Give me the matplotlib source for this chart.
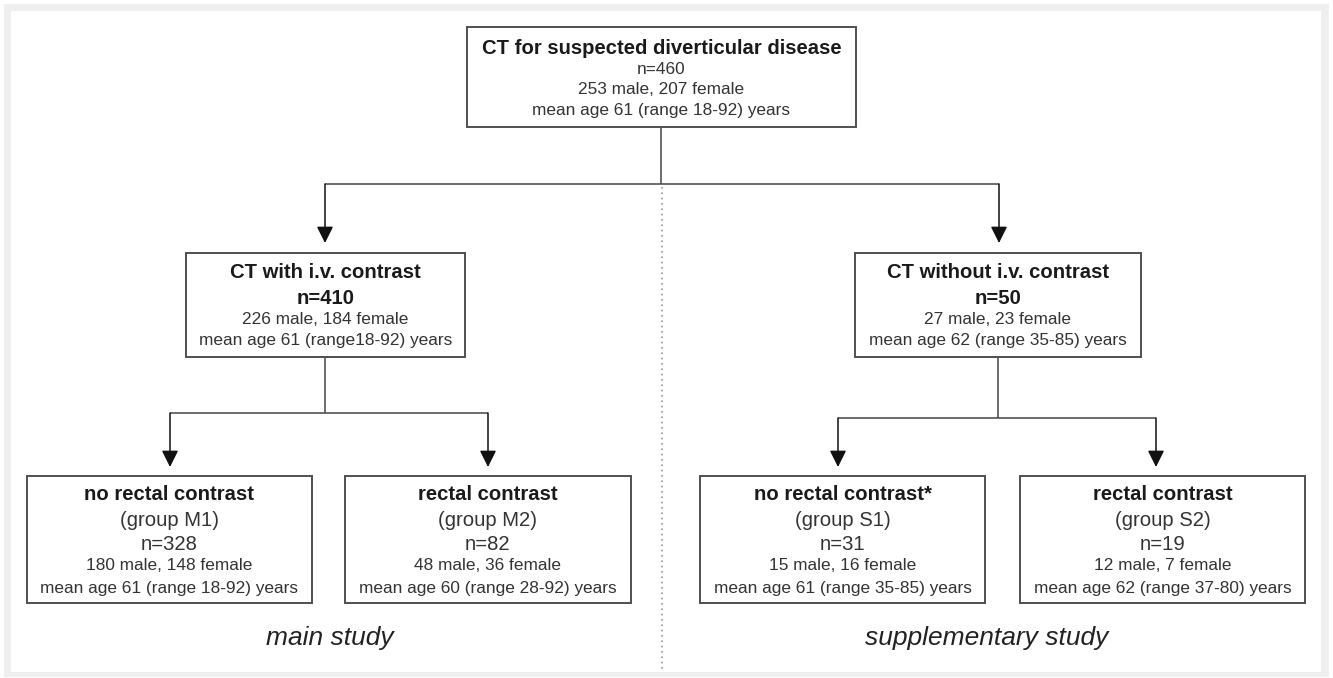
import matplotlib
matplotlib.use("Agg")
import matplotlib.pyplot as plt
from matplotlib.patches import Rectangle, FancyArrowPatch

plt.rcParams['font.family'] = ['Liberation Sans', 'DejaVu Sans']

# ---------------- data ----------------
top_title = "CT for suspected diverticular disease"
top_n = 460
top_male, top_female = 253, 207
top_age = "mean age 61 (range 18-92) years"

mid_titles = ["CT with i.v. contrast", "CT without i.v. contrast"]
mid_n = [410, 50]
mid_male = [226, 27]
mid_female = [184, 23]
mid_age = ["mean age 61 (range18-92) years", "mean age 62 (range 35-85) years"]

bot_titles = ["no rectal contrast", "rectal contrast", "no rectal contrast*", "rectal contrast"]
bot_groups = ["M1", "M2", "S1", "S2"]
bot_n = [328, 82, 31, 19]
bot_male = [180, 48, 15, 12]
bot_female = [148, 36, 16, 7]
bot_age = ["mean age 61 (range 18-92) years", "mean age 60 (range 28-92) years",
           "mean age 61 (range 35-85) years", "mean age 62 (range 37-80) years"]

study_labels = ["main study", "supplementary study"]

# ---------------- layout (pixel space) ----------------
W, H = 1333, 678
fig = plt.figure(figsize=(W / 100, H / 100), dpi=100)
ax = fig.add_axes([0, 0, 1, 1])
ax.set_xlim(0, W)
ax.set_ylim(H, 0)
ax.axis('off')

# frame
ax.add_patch(Rectangle((4, 4), 1325, 673, facecolor='#efefef', edgecolor='none', zorder=0))
ax.add_patch(Rectangle((11, 11), 1310, 661, facecolor='white', edgecolor='none', zorder=0.5))

BOX_EC = '#505050'
LINE_C = '#454545'
TXT_B = '#1a1a1a'
TXT_R = '#333333'
F_BIG = 14.6
F_SMALL = 12.4


def box(x0, x1, y0, y1):
    ax.add_patch(Rectangle((x0, y0), x1 - x0, y1 - y0, facecolor='white',
                           edgecolor=BOX_EC, lw=1.4, zorder=2))


def line(xs, ys):
    ax.plot(xs, ys, color=LINE_C, lw=1.1, solid_capstyle='butt', zorder=1)


def arrow(x, y0, y1):
    ax.add_patch(FancyArrowPatch((x, y0), (x, y1), arrowstyle='-|>,head_length=1.0,head_width=0.5',
                                 mutation_scale=10, color='#111111', lw=1.1,
                                 shrinkA=0, shrinkB=0, zorder=3))


def txt(x, y, s, size, bold=False, italic=False, color=None):
    ax.text(x, y + 1, s, ha='center', va='center', fontsize=size,
            fontweight='bold' if bold else 'normal',
            fontstyle='italic' if italic else 'normal',
            color=color or (TXT_B if bold else TXT_R), zorder=4)


# dotted divider
ax.plot([662, 662], [187, 669], color='#9a9a9a', lw=1.2, ls=(0, (1, 2.2)), zorder=1)

# top box
box(467, 856, 27, 127)
tcx = (467 + 856) / 2
txt(tcx, 47, top_title, 14.6, bold=True)
txt(tcx, 68, f"n={top_n}", F_SMALL)
txt(tcx, 89, f"{top_male} male, {top_female} female", F_SMALL)
txt(tcx, 110, top_age, F_SMALL)

# connectors top -> middle
line([661, 661], [127, 184])
line([325, 999], [184, 184])
arrow(325, 184, 243)
arrow(999, 184, 243)

# middle boxes
mid_x = [(186, 465), (855, 1141)]
for i in range(2):
    x0, x1 = mid_x[i]
    box(x0, x1, 253, 357)
    cx = (x0 + x1) / 2
    txt(cx, 272, mid_titles[i], F_BIG, bold=True)
    txt(cx, 297, f"n={mid_n[i]}", F_BIG, bold=True)
    txt(cx, 319, f"{mid_male[i]} male, {mid_female[i]} female", F_SMALL)
    txt(cx, 340, mid_age[i], F_SMALL)

# connectors middle -> bottom
line([325, 325], [357, 413])
line([170, 488], [413, 413])
arrow(170, 413, 467)
arrow(488, 413, 467)
line([998, 998], [357, 418])
line([838, 1156], [418, 418])
arrow(838, 418, 467)
arrow(1156, 418, 467)

# bottom boxes
bot_x = [(27, 312), (345, 631), (700, 985), (1020, 1305)]
for i in range(4):
    x0, x1 = bot_x[i]
    box(x0, x1, 476, 603)
    cx = (x0 + x1) / 2
    txt(cx, 494, bot_titles[i], F_BIG, bold=True)
    txt(cx, 519, f"(group {bot_groups[i]})", F_BIG)
    txt(cx, 543, f"n={bot_n[i]}", F_BIG)
    txt(cx, 565, f"{bot_male[i]} male, {bot_female[i]} female", F_SMALL)
    txt(cx, 587, bot_age[i], F_SMALL)

# study labels
txt(330, 637, study_labels[0], 19, italic=True, color='#222222')
txt(987, 637, study_labels[1], 19, italic=True, color='#222222')

fig.savefig("out.png", dpi=100, facecolor='white')
